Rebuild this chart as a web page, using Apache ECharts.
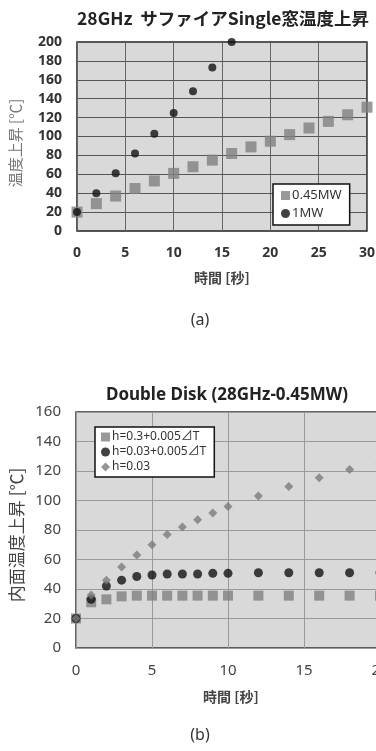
<!DOCTYPE html>
<html>
<head>
<meta charset="utf-8">
<script src="https://cdn.jsdelivr.net/npm/echarts@6/dist/echarts.min.js"></script>
<style>
  html, body { margin: 0; padding: 0; background: #fff; overflow: hidden; }
  #chart { width: 470px; height: 751px; }
</style>
</head>
<body>
<div id="chart"></div>
<script>
// (a) 28GHz sapphire single window
const timeA = [0, 2, 4, 6, 8, 10, 12, 14, 16, 18, 20, 22, 24, 26, 28, 30]
const rise045MW = [20, 29, 37, 45, 53, 61, 68, 75, 82, 89, 95, 102, 109, 116, 123, 131]
const time1MW = [0, 2, 4, 6, 8, 10, 12, 14, 16]
const rise1MW = [20, 40, 61, 82, 103, 125, 148, 173, 200]

// (b) double disk 28GHz-0.45MW
const timeB = [0, 1, 2, 3, 4, 5, 6, 7, 8, 9, 10, 12, 14, 16, 18, 20]
const riseH03dT = [20, 31, 33, 35, 35.5, 35.5, 35.5, 35.5, 35.5, 35.5, 35.5, 35.5, 35.5, 35.5, 35.5, 35.5]
const riseH003dT = [20, 33, 42, 46, 48.5, 49.5, 50.2, 50.2, 50.2, 50.6, 50.6, 51, 51, 51, 51, 51]
const riseH003 = [20, 36, 46, 55, 63, 70, 77, 82, 87, 91.5, 96, 103, 109.5, 115.5, 121, 125]

const namesA = ['0.45MW', '1MW']
const namesB = ['h=0.3+0.005⊿T', 'h=0.03+0.005⊿T', 'h=0.03']

const ff = "'Noto Sans', 'Noto Sans CJK JP', sans-serif"
const ffJp = "'Noto Sans CJK JP', sans-serif"

function pairs(xs, ys) {
  return ys.map(function(y, i) { return [xs[i], y] })
}

const chart = echarts.init(document.getElementById('chart'))

chart.setOption({
  animation: false,
  textStyle: { fontFamily: ff },
  graphic: [
    { type: 'text', x: 223, y: 18, style: { text: '28GHz  サファイアSingle窓温度上昇', font: 'bold 17.5px ' + ffJp, fill: '#222', align: 'center', verticalAlign: 'middle' } },
    { type: 'text', x: 15, y: 143, rotation: Math.PI / 2, style: { text: '温度上昇 [℃]', font: '15px ' + ffJp, fill: '#777', align: 'center', verticalAlign: 'middle' } },
    { type: 'text', x: 222, y: 278, style: { text: '時間 [秒]', font: 'bold 14px ' + ffJp, fill: '#444', align: 'center', verticalAlign: 'middle' } },
    { type: 'text', x: 200, y: 320, style: { text: '(a)', font: '16px ' + ff, fill: '#333', align: 'center', verticalAlign: 'middle' } },
    { type: 'text', x: 227, y: 395, style: { text: 'Double Disk (28GHz-0.45MW)', font: 'bold 17px ' + ff, fill: '#222', align: 'center', verticalAlign: 'middle' } },
    { type: 'text', x: 17, y: 535, rotation: Math.PI / 2, style: { text: '内面温度上昇 [℃]', font: '17px ' + ffJp, fill: '#444', align: 'center', verticalAlign: 'middle' } },
    { type: 'text', x: 231, y: 697, style: { text: '時間 [秒]', font: 'bold 14px ' + ffJp, fill: '#444', align: 'center', verticalAlign: 'middle' } },
    { type: 'text', x: 200, y: 735, style: { text: '(b)', font: '16px ' + ff, fill: '#333', align: 'center', verticalAlign: 'middle' } }
  ],
  legend: [
    {
      data: [{ name: namesA[0], icon: 'rect' }, { name: namesA[1], icon: 'circle' }],
      orient: 'vertical',
      left: 273,
      top: 184,
      padding: [5, 8, 5, 8],
      itemGap: 5,
      itemWidth: 9,
      itemHeight: 9,
      backgroundColor: '#fff',
      borderColor: '#111',
      borderWidth: 1.5,
      borderRadius: 0,
      textStyle: { fontSize: 13, color: '#333', padding: [0, 0, 0, -3] }
    },
    {
      data: [{ name: namesB[0], icon: 'rect' }, { name: namesB[1], icon: 'circle' }, { name: namesB[2], icon: 'diamond' }],
      orient: 'vertical',
      left: 95,
      top: 427,
      padding: [4, 8, 4, 6],
      itemGap: 3,
      itemWidth: 9,
      itemHeight: 9,
      backgroundColor: '#fff',
      borderColor: '#111',
      borderWidth: 1.5,
      borderRadius: 0,
      textStyle: { fontSize: 12, color: '#333', padding: [0, 0, 0, -3] }
    }
  ],
  grid: [
    { left: 77, top: 42, width: 290, height: 189, show: true, backgroundColor: '#d9d9d9', borderColor: '#222', borderWidth: 1.5 },
    { left: 76, top: 412, width: 380, height: 236, show: true, backgroundColor: '#d9d9d9', borderColor: '#333', borderWidth: 1.5 }
  ],
  xAxis: [
    {
      gridIndex: 0, type: 'value', min: 0, max: 30, interval: 5,
      axisLine: { show: false }, axisTick: { show: false },
      axisLabel: { margin: 15, fontSize: 14, fontWeight: 'bold', color: '#333' },
      splitLine: { lineStyle: { color: '#666', width: 1 } }
    },
    {
      gridIndex: 1, type: 'value', min: 0, max: 25, interval: 5,
      axisLine: { show: false }, axisTick: { show: false },
      axisLabel: { margin: 15, fontSize: 15, color: '#444' },
      splitLine: { lineStyle: { color: '#9a9a9a', width: 1 } }
    }
  ],
  yAxis: [
    {
      gridIndex: 0, type: 'value', min: 0, max: 200, interval: 20,
      axisLine: { show: false }, axisTick: { show: false },
      axisLabel: { margin: 15, fontSize: 14, fontWeight: 'bold', color: '#333' },
      splitLine: { lineStyle: { color: '#555', width: 1 } }
    },
    {
      gridIndex: 1, type: 'value', min: 0, max: 160, interval: 20,
      axisLine: { show: false }, axisTick: { show: false },
      axisLabel: { margin: 15, fontSize: 15, color: '#444' },
      splitLine: { lineStyle: { color: '#9a9a9a', width: 1 } }
    }
  ],
  series: [
    {
      name: namesA[0], type: 'scatter', xAxisIndex: 0, yAxisIndex: 0,
      symbol: 'rect', symbolSize: 11, itemStyle: { color: '#7f7f7f' },
      data: pairs(timeA, rise045MW)
    },
    {
      name: namesA[1], type: 'scatter', xAxisIndex: 0, yAxisIndex: 0,
      symbol: 'circle', symbolSize: 8, itemStyle: { color: '#111' },
      data: pairs(time1MW, rise1MW)
    },
    {
      name: namesB[0], type: 'scatter', xAxisIndex: 1, yAxisIndex: 1,
      symbol: 'rect', symbolSize: 10, itemStyle: { color: '#7f7f7f' },
      data: pairs(timeB, riseH03dT)
    },
    {
      name: namesB[1], type: 'scatter', xAxisIndex: 1, yAxisIndex: 1,
      symbol: 'circle', symbolSize: 9, itemStyle: { color: '#111' },
      data: pairs(timeB, riseH003dT)
    },
    {
      name: namesB[2], type: 'scatter', xAxisIndex: 1, yAxisIndex: 1,
      symbol: 'diamond', symbolSize: 9, itemStyle: { color: '#7a7a7a' },
      data: pairs(timeB, riseH003)
    }
  ]
})
</script>
</body>
</html>
